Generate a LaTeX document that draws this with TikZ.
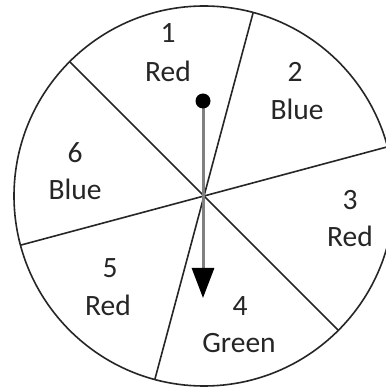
\documentclass[tikz,border=0pt]{standalone}
\usepackage{fontspec}
\setmainfont{Carlito}
\usetikzlibrary{arrows.meta,calc}
\begin{document}
\begin{tikzpicture}[x=1pt,y=1pt,
  edge/.style={line width=1.6pt,draw=black!85},
  lbl/.style={anchor=base,inner sep=0pt,text=black!85,font=\fontsize{29.5}{34}\selectfont},
  pin/.style={circle,fill=black,inner sep=0pt,minimum size=15pt},
  pointer/.style={line width=3pt,draw=black!50,-{Triangle[width=22pt,length=30pt,black]}}]
\useasboundingbox (0,0) rectangle (386,389);
\clip (0,0) rectangle (386,389);
\fill[white] (0,0) rectangle (386,389);
\coordinate (o) at (204,193);
\draw[edge] (o) circle[radius=190pt];
\foreach \a/\n in {15/p15,75/p75,135/p135,195/p195,255/p255,315/p315}{
  \coordinate (\n) at ($(o)+(\a:190pt)$);
}
\draw[edge] (p75) -- (o) -- (p255);
\draw[edge] (p135) -- (o) -- (p315);
\draw[edge] (p15) -- (o) -- (p195);
% labels
\node[lbl] (n1) at (168,346) {1};
\node[lbl] (c1) at (168,307) {Red};
\node[lbl] (n2) at (295,307) {2};
\node[lbl] (c2) at (297,269) {Blue};
\node[lbl] (n3) at (350,179) {3};
\node[lbl] (c3) at (350,142) {Red};
\node[lbl] (n4) at (240,74) {4};
\node[lbl] (c4) at (239,36) {Green};
\node[lbl] (n5) at (110,111) {5};
\node[lbl] (c5) at (108,74) {Red};
\node[lbl] (n6) at (75,226) {6};
\node[lbl] (c6) at (75,189) {Blue};
% pointer
\coordinate (tip) at (203,91);
\coordinate (pivot) at (203,288);
\draw[pointer] (pivot) -- (tip);
\node[pin] (dot) at (pivot) {};
\end{tikzpicture}
\end{document}
